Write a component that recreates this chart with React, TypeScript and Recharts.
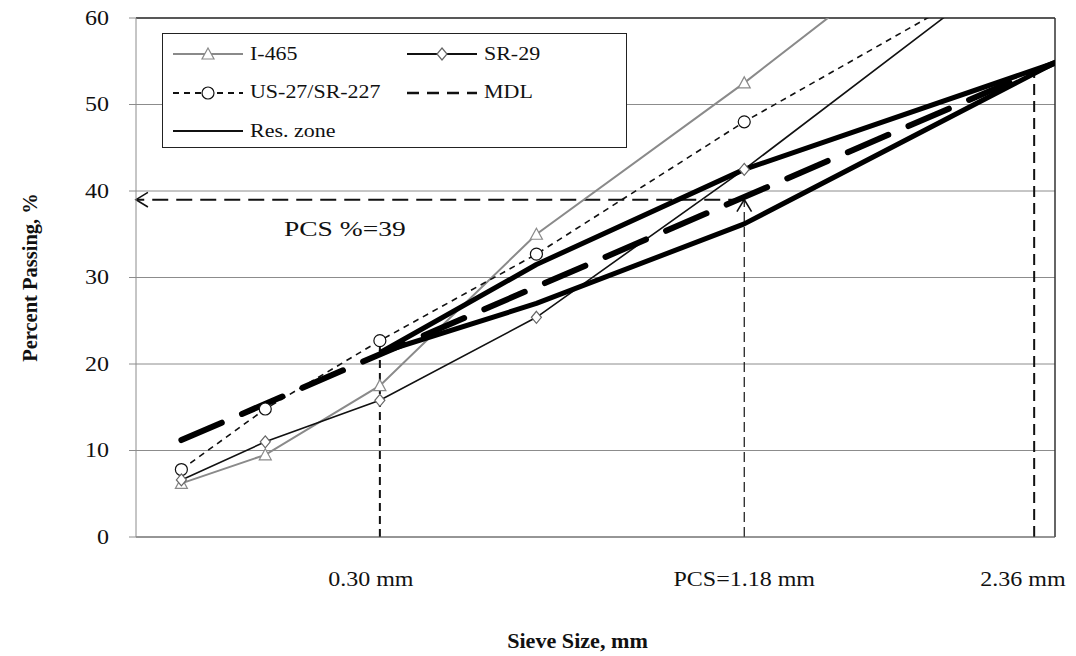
import React from 'react';
import {
  LineChart, Line, XAxis, YAxis, CartesianGrid, ReferenceLine, ReferenceDot, Legend, Label,
} from 'recharts';

// sieve sizes (mm) and percent passing
const sieveSizes = [0.075, 0.15, 0.3, 0.6, 1.18, 2.36];
const i465Values = [6.2, 9.5, 17.5, 35, 52.5, 78.5];
const us27Values = [7.8, 14.8, 22.7, 32.7, 48, 67];
const sr29Values = [6.6, 11, 15.8, 25.4, 42.5, 68];

// maximum density line and restricted zone
const mdlSizes = [0.075, 2.46];
const mdlValues = [11.2, 54.8];
const zoneSizes = [0.3, 0.6, 1.18, 2.46];
const zoneUpper = [21.3, 31.5, 42.5, 54.8];
const zoneLower = [21.3, 27, 36.2, 54.8];

// annotations
const pcsSize = 1.18;
const pcsPercent = 39;
const guide030Top = 22;
const guide236Top = 53.7;

const xTickSizes = [0.3, 1.18, 2.36];
const xTickLabels = ['0.30 mm', 'PCS=1.18 mm', '2.36 mm'];
const xTickShift = [-9, 0, 17];
const yTicks = [0, 10, 20, 30, 40, 50, 60];

const POW = 0.45;
const px = (mm: number) => Math.pow(mm, POW);
const toPoints = (sizes: number[], values: number[]) => sizes.map((s, i) => ({ x: px(s), y: values[i] }));

const i465Data = toPoints(sieveSizes, i465Values);
const us27Data = toPoints(sieveSizes, us27Values);
const sr29Data = toPoints(sieveSizes, sr29Values);
const mdlData = toPoints(mdlSizes, mdlValues);
const upperData = toPoints(zoneSizes, zoneUpper);
const lowerData = toPoints(zoneSizes, zoneLower);

const FONT = '"Liberation Serif", "Times New Roman", serif';
const GRID = '#8c8c8c';

// the source picture is stretched sideways, so text is widened a little
const Wide = ({ x, y, size, sx = 1.2, anchor = 'middle', bold = false, children }: any) => (
  <text
    transform={`translate(${x},${y}) scale(${sx},1)`}
    textAnchor={anchor}
    dominantBaseline="central"
    fontFamily={FONT}
    fontSize={size}
    fontWeight={bold ? 'bold' : 'normal'}
    fill="#111"
  >
    {children}
  </text>
);

const Triangle = ({ cx, cy }: any) => (
  <path d={`M${cx},${cy - 6} L${cx + 6},${cy + 5} L${cx - 6},${cy + 5} Z`} fill="#fff" stroke="#8a8a8a" strokeWidth={1.2} />
);
const Circle = ({ cx, cy }: any) => <circle cx={cx} cy={cy} r={6} fill="#fff" stroke="#111" strokeWidth={1.2} />;
const Diamond = ({ cx, cy }: any) => (
  <path d={`M${cx},${cy - 6} L${cx + 5},${cy} L${cx},${cy + 6} L${cx - 5},${cy} Z`} fill="#fff" stroke="#666" strokeWidth={1.2} />
);

const ArrowLine = (props: any) => {
  const { x1, y1, x2, y2, stroke, strokeWidth, strokeDasharray } = props;
  const a = Math.atan2(y2 - y1, x2 - x1);
  const len = 14;
  const spread = 0.55;
  const p1 = [x2 - len * Math.cos(a - spread), y2 - len * Math.sin(a - spread)];
  const p2 = [x2 - len * Math.cos(a + spread), y2 - len * Math.sin(a + spread)];
  return (
    <g>
      <line x1={x1} y1={y1} x2={x2} y2={y2} stroke={stroke} strokeWidth={strokeWidth} strokeDasharray={strokeDasharray} />
      <path d={`M${p1[0]},${p1[1]} L${x2},${y2} L${p2[0]},${p2[1]}`} fill="none" stroke={stroke} strokeWidth={1.6} />
    </g>
  );
};

const XTick = ({ x, y, index }: any) => (
  <Wide x={x + xTickShift[index]} y={y + 34} size={20}>{xTickLabels[index]}</Wide>
);

const YTick = ({ x, y, payload }: any) => (
  <Wide x={x} y={y} size={20} anchor="end">{payload.value}</Wide>
);

const legendItems = [
  { name: 'I-465', stroke: '#8a8a8a', width: 2, dash: undefined, marker: 'tri' },
  { name: 'SR-29', stroke: '#111', width: 2, dash: undefined, marker: 'dia' },
  { name: 'US-27/SR-227', stroke: '#111', width: 2, dash: '6 5', marker: 'cir' },
  { name: 'MDL', stroke: '#111', width: 2.5, dash: '12 8', marker: '' },
  { name: 'Res. zone', stroke: '#111', width: 2, dash: undefined, marker: '' },
];

const Swatch = ({ item }: any) => (
  <svg width={70} height={16} style={{ display: 'block' }}>
    <line x1={0} y1={8} x2={70} y2={8} stroke={item.stroke} strokeWidth={item.width} strokeDasharray={item.dash} />
    {item.marker === 'tri' && <Triangle cx={35} cy={8} />}
    {item.marker === 'cir' && <Circle cx={35} cy={8} />}
    {item.marker === 'dia' && <Diamond cx={35} cy={8} />}
  </svg>
);

const LegendBox = () => (
  <div style={{
    width: 465, height: 115, boxSizing: 'border-box', border: '1.5px solid #222', background: '#fff',
    position: 'relative', fontFamily: FONT, fontSize: 18, color: '#111',
  }}>
    {legendItems.map((item, i) => {
      const col = i === 4 ? 0 : i % 2;
      const row = Math.floor(i / 2);
      return (
        <div key={item.name} style={{ position: 'absolute', left: col === 0 ? 10 : 244, top: 11 + row * 38.5, display: 'flex', alignItems: 'center', height: 18, whiteSpace: 'nowrap' }}>
          <Swatch item={item} />
          <span style={{ marginLeft: 7, display: 'inline-block', transform: 'scaleX(1.22)', transformOrigin: 'left center' }}>{item.name}</span>
        </div>
      );
    })}
  </div>
);

export default function App() {
  return (
    <div style={{ position: 'absolute', left: 0, top: 0, width: 1076, height: 656, background: '#fff' }}>
      <LineChart width={1076} height={656} margin={{ top: 18, right: 21, bottom: 59, left: 96 }}>
        <CartesianGrid vertical={false} stroke={GRID} strokeWidth={1} />
        <XAxis
          type="number"
          dataKey="x"
          domain={[0.25, 1.5]}
          allowDataOverflow
          ticks={xTickSizes.map(px)}
          tick={<XTick />}
          tickLine={false}
          axisLine={{ stroke: '#666' }}
          height={60}
        >
          <Label
            content={({ viewBox }: any) => (
              <Wide x={viewBox.x + viewBox.width / 2 - 18} y={viewBox.y + 104} size={20.5} sx={1.08} bold>
                Sieve Size, mm
              </Wide>
            )}
          />
        </XAxis>
        <YAxis
          type="number"
          domain={[0, 60]}
          allowDataOverflow
          ticks={yTicks}
          width={40}
          tickSize={7}
          tickMargin={20}
          tickLine={{ stroke: GRID }}
          axisLine={{ stroke: GRID }}
          tick={<YTick />}
        >
          <Label
            content={({ viewBox }: any) => {
              const cx = 30;
              const cy = viewBox.y + viewBox.height / 2;
              return (
                <text x={cx} y={cy} transform={`rotate(-90 ${cx} ${cy})`} textAnchor="middle" dominantBaseline="central" fontFamily={FONT} fontSize={20.5} fontWeight="bold" fill="#111">
                  Percent Passing, %
                </text>
              );
            }}
          />
        </YAxis>

        <ReferenceLine y={60} stroke="#333" strokeWidth={1.5} />
        <ReferenceLine x={1.5} stroke="#333" strokeWidth={1.5} />

        <ReferenceLine segment={[{ x: px(0.3), y: 0 }, { x: px(0.3), y: guide030Top }]} stroke="#111" strokeWidth={2} strokeDasharray="8 5" />
        <ReferenceLine segment={[{ x: px(2.36), y: 0 }, { x: px(2.36), y: guide236Top }]} stroke="#111" strokeWidth={2} strokeDasharray="11 6" />
        <ReferenceLine
          segment={[{ x: px(pcsSize), y: 0 }, { x: px(pcsSize), y: pcsPercent }]}
          stroke="#111" strokeWidth={1.2} strokeDasharray="10 5" shape={ArrowLine}
        />
        <ReferenceLine
          segment={[{ x: px(pcsSize), y: pcsPercent }, { x: 0.25, y: pcsPercent }]}
          stroke="#111" strokeWidth={2} strokeDasharray="16 8" shape={ArrowLine}
        />
        <ReferenceDot x={0.534} y={35.7} r={0} fill="none" stroke="none">
          <Label
            content={({ viewBox }: any) => (
              <Wide x={viewBox.x + viewBox.width / 2} y={viewBox.y + viewBox.height / 2} size={22} sx={1.25}>
                PCS %=39
              </Wide>
            )}
          />
        </ReferenceDot>

        <Line data={i465Data} dataKey="y" name="I-465" stroke="#8a8a8a" strokeWidth={2} dot={(p: any) => <Triangle key={`t${p.index}`} cx={p.cx} cy={p.cy} />} isAnimationActive={false} />
        <Line data={us27Data} dataKey="y" name="US-27/SR-227" stroke="#111" strokeWidth={1.6} strokeDasharray="6 5" dot={(p: any) => <Circle key={`c${p.index}`} cx={p.cx} cy={p.cy} />} isAnimationActive={false} />
        <Line data={sr29Data} dataKey="y" name="SR-29" stroke="#111" strokeWidth={1.6} dot={(p: any) => <Diamond key={`d${p.index}`} cx={p.cx} cy={p.cy} />} isAnimationActive={false} />
        <Line data={mdlData} dataKey="y" name="MDL" stroke="#000" strokeWidth={6} strokeDasharray="44 22" strokeLinecap="round" dot={false} isAnimationActive={false} />
        <Line data={upperData} dataKey="y" name="Res. zone" stroke="#000" strokeWidth={5} strokeLinejoin="round" dot={false} isAnimationActive={false} />
        <Line data={lowerData} dataKey="y" name="Res. zone lower" stroke="#000" strokeWidth={5} strokeLinejoin="round" dot={false} isAnimationActive={false} />

        <Legend
          layout="horizontal"
          verticalAlign="middle"
          align="center"
          content={() => <LegendBox />}
          wrapperStyle={{ position: 'absolute', left: 162, top: 33, width: 465, height: 115 }}
        />
      </LineChart>
    </div>
  );
}
